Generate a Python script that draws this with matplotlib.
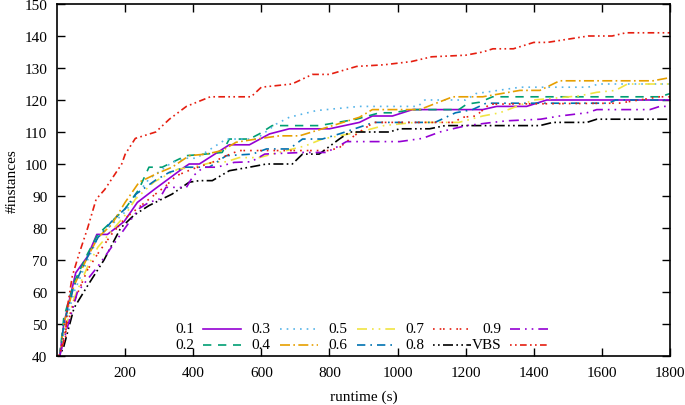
import matplotlib
matplotlib.use("Agg")
import matplotlib.pyplot as plt

plt.rcParams['font.family'] = ['Liberation Serif', 'DejaVu Serif']

# ---- data (runtime in s, #instances solved) ----
t_01 = [8, 20, 55, 89, 117, 148, 197, 236, 285, 374, 388, 418, 506, 565, 624, 682, 800, 888, 926, 985, 1044, 1250, 1291, 1379, 1438, 1800]
n_01 = [40, 50, 66, 71, 78, 78, 82, 88, 92, 99, 100, 100, 106, 106, 109.4, 111, 111, 113, 115, 115, 117, 117, 118, 118, 120, 120]

t_02 = [8, 20, 50, 90, 120, 160, 200, 240, 270, 309, 379, 426, 485, 506, 565, 594, 632, 770, 879, 947, 985, 1044, 1180, 1203, 1241, 1279, 1770, 1800]
n_02 = [40, 52, 63, 72, 78, 82, 86, 92, 99, 99, 102.6, 103, 103.6, 107.8, 107.8, 109.4, 112, 112, 114, 116, 116, 117, 117, 118.7, 119.3, 121, 121, 122]

t_03 = [8, 20, 50, 90, 120, 160, 200, 232, 270, 338, 379, 409, 497, 585, 644, 682, 762, 888, 1060, 1080, 1200, 1230, 1360, 1560, 1590, 1800]
n_03 = [40, 48, 60, 70, 77, 81, 85, 90, 95.3, 100.5, 101.8, 101.8, 107.8, 107.8, 112.5, 114.6, 116.7, 118, 118, 120, 120, 122, 124, 124, 125, 125]

t_04 = [8, 20, 50, 90, 120, 160, 200, 241, 291, 338, 388, 438, 485, 526, 585, 653, 712, 779, 888, 926, 1065, 1162, 1250, 1359, 1418, 1476, 1750, 1800]
n_04 = [40, 50, 62, 71, 77, 81, 88, 94.3, 96.9, 99, 102.6, 103.1, 104.2, 106.8, 107.8, 108.8, 108.8, 111, 114.6, 117, 117, 121, 121, 123, 123, 126, 126, 127]

t_05 = [8, 20, 50, 90, 120, 160, 200, 230, 285, 355, 400, 455, 497, 535, 594, 632, 730, 779, 888, 960, 1050, 1180, 1250, 1300, 1400, 1535, 1585, 1640, 1675, 1800]
n_05 = [40, 47, 58, 68, 74, 79, 84, 89, 94.4, 98.4, 99, 100.5, 100.7, 102, 102, 103.1, 105.7, 107.8, 110, 112, 113, 113, 115, 116, 120, 121.3, 122.4, 123, 125, 125]

t_06 = [8, 20, 50, 90, 120, 160, 200, 232, 290, 330, 379, 447, 497, 574, 615, 682, 721, 779, 829, 888, 930, 1110, 1170, 1220, 1260, 1620, 1640, 1800]
n_06 = [40, 50, 62, 71, 77, 82, 86, 90.6, 95, 97.4, 99, 99, 102.6, 103.1, 104.7, 104.7, 107.8, 107.8, 109.4, 111.5, 113, 113, 116, 117, 119, 119, 120, 120]

t_07 = [8, 20, 50, 90, 120, 160, 200, 270, 320, 350, 397, 456, 497, 535, 800, 830, 860, 888, 930, 1165, 1190, 1230, 1270, 1650, 1770, 1800]
n_07 = [40, 46, 57, 67, 72, 78, 83, 89, 93.2, 96.3, 98.4, 100.5, 102.6, 104.2, 104.2, 105.2, 107.8, 110, 113, 113, 114.6, 115, 118.7, 119, 121, 121]

t_08 = [8, 20, 50, 90, 138, 187, 226, 270, 338, 388, 418, 456, 506, 565, 615, 691, 721, 770, 829, 860, 976, 1006, 1094, 1140, 1418, 1456, 1556, 1585, 1800]
n_08 = [40, 43, 55, 62, 70, 80, 84, 87, 90.6, 94.3, 94.8, 94.8, 97.9, 99, 100, 100, 103.1, 103.1, 107.8, 110, 110, 111, 111, 112, 112, 113, 113, 114, 114]

t_09 = [8, 20, 60, 90, 120, 160, 200, 240, 270, 300, 320, 380, 400, 430, 470, 520, 570, 610, 720, 790, 820, 850, 1006, 1073, 1124, 1162, 1203, 1279, 1321, 1420, 1476, 1556, 1585, 1741, 1770, 1800]
n_09 = [40, 45, 60, 64, 68, 74, 80, 86, 88, 89, 92.7, 92.7, 96.3, 99, 99, 100.5, 100.7, 103.1, 103.6, 103.6, 105.2, 107, 107, 108, 110, 111, 112, 113, 113.5, 114, 115, 116, 117, 117, 118, 118]

t_vbs = [5, 15, 25, 30, 45, 65, 90, 115, 140, 190, 200, 230, 290, 330, 380, 450, 570, 600, 690, 750, 800, 880, 960, 1040, 1100, 1200, 1250, 1280, 1340, 1400, 1440, 1500, 1560, 1630, 1670, 1800]
n_vbs = [40, 43, 46, 55, 65, 72, 80, 89, 92, 100, 103, 108, 110, 114, 118, 121, 121, 124, 125, 128, 128, 130.5, 131, 132, 133.5, 134, 135, 136, 136, 138, 138, 139, 140, 140, 141, 141]

labels = ['0.1', '0.2', '0.3', '0.4', '0.5', '0.6', '0.7', '0.8', '0.9', 'VBS']
x_ticks = [200, 400, 600, 800, 1000, 1200, 1400, 1600, 1800]
y_ticks = [40, 50, 60, 70, 80, 90, 100, 110, 120, 130, 140, 150]

series = [(t_01, n_01), (t_02, n_02), (t_03, n_03), (t_04, n_04), (t_05, n_05),
          (t_06, n_06), (t_07, n_07), (t_08, n_08), (t_09, n_09), (t_vbs, n_vbs)]

colors = ['#9400D3', '#009E73', '#56B4E9', '#E69F00', '#F0E442',
          '#0072B2', '#E51E10', '#000000', '#9400D3', '#E51E10']
dashes = [None, (5, 4), (1, 3), (6, 2, 1, 2), (6, 3, 1, 3, 1, 3),
          (5, 3, 1, 3), (1, 3, 1, 1, 1, 3), (1, 2, 1, 2, 6, 2), (6, 3, 1, 3, 1, 3), (1, 2, 1, 2, 4, 2)]

W, H = 685, 406
AX_L, AX_R, AX_T, AX_B = 57, 670, 5, 357
fig = plt.figure(figsize=(W / 100, H / 100), dpi=100)
ax = fig.add_axes([AX_L / W, (H - AX_B) / H, (AX_R - AX_L) / W, (AX_B - AX_T) / H])

for (t, n), lab, c, d in zip(series, labels, colors, dashes):
    line, = ax.plot(t, n, color=c, lw=1.2, label=lab)
    if d is not None:
        line.set_dashes(d)

ax.set_xlim(0, 1800)
ax.set_ylim(40, 150)
ax.set_xticks(x_ticks)
ax.set_yticks(y_ticks)
ax.tick_params(direction='in', top=True, right=True, length=6, width=1, labelsize=11, pad=7)
for s in ax.spines.values():
    s.set_linewidth(1.2)
ax.set_xlabel('runtime (s)', fontsize=11, labelpad=8)
ax.set_ylabel('#instances', fontsize=11, labelpad=4)

# gnuplot-style key: right-aligned label followed by a line sample, 5 columns x 2 rows
def fx(px):
    return (px - AX_L) / (AX_R - AX_L)

def fy(py):
    return (AX_B - py) / (AX_B - AX_T)

pitch = 76.75
rows_y = [330, 346]
for i, (lab, c, d) in enumerate(zip(labels, colors, dashes)):
    col, row = i // 2, i % 2
    xr = 194 + col * pitch
    yy = fy(rows_y[row])
    ax.text(fx(xr), yy, lab, transform=ax.transAxes, ha='right', va='center', fontsize=11)
    ln, = ax.plot([fx(xr + 9), fx(xr + 47)], [yy, yy], transform=ax.transAxes,
                  color=c, lw=1.2, clip_on=False)
    if d is not None:
        ln.set_dashes(d)

fig.savefig('out.png', dpi=100)
